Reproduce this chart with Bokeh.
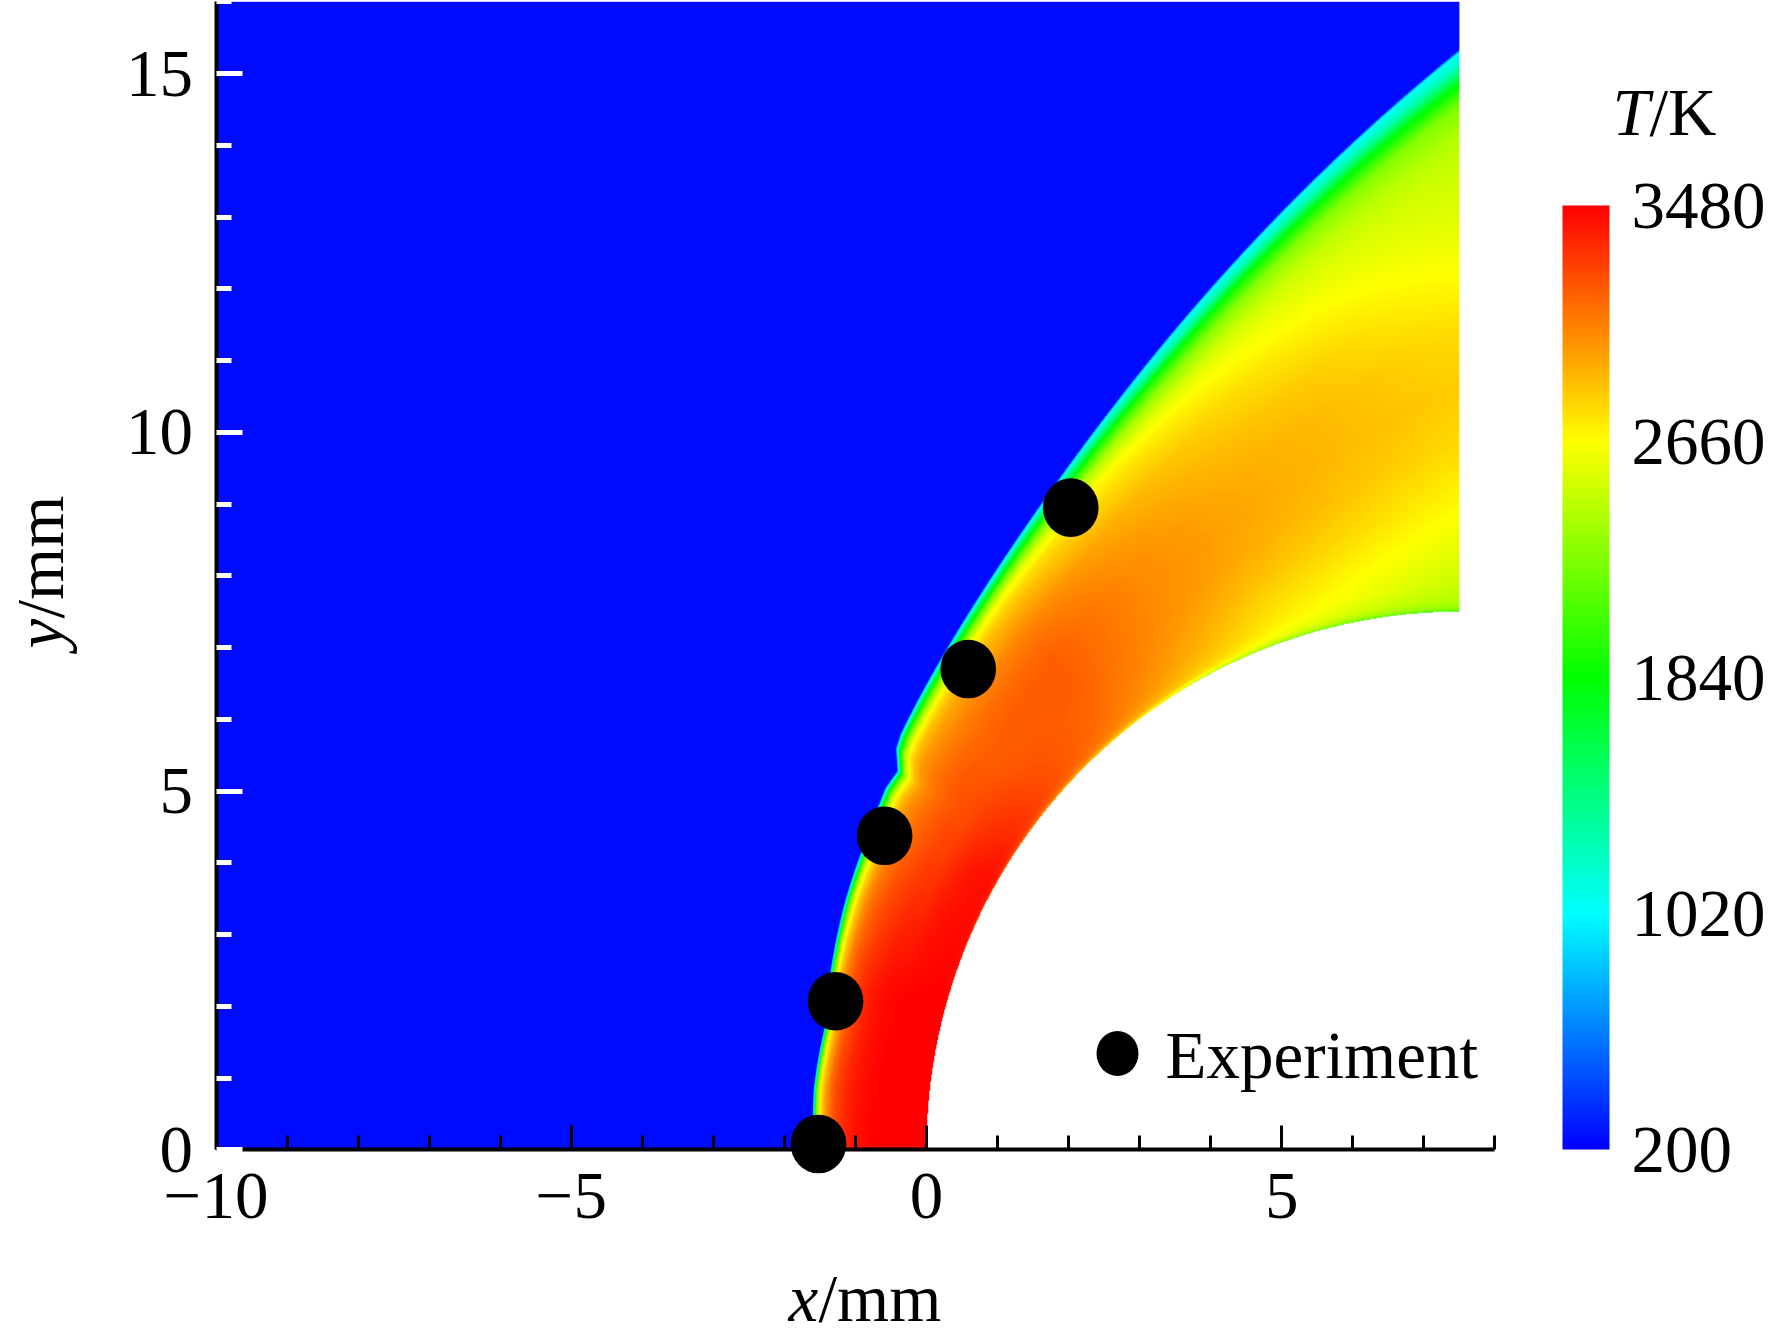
import numpy as np
from bokeh.plotting import figure
from bokeh.embed import file_html
from bokeh.resources import INLINE
from bokeh.models import (Range1d, LinearAxis, FixedTicker, LinearColorMapper, ColorBar, Label)

# ---------- values ----------
x_major = [-10, -5, 0, 5]
x_minor = [-9, -8, -7, -6, -4, -3, -2, -1, 1, 2, 3, 4, 6, 7, 8]
y_major = [0, 5, 10, 15]
y_minor = [1, 2, 3, 4, 6, 7, 8, 9, 11, 12, 13, 14, 16]
cbar_ticks = [200, 1020, 1840, 2660, 3480]

exp_x = [-1.52, -1.28, -0.59, 0.587, 2.03]
exp_y = [0.08, 2.07, 4.376, 6.70, 8.95]

# shock front (outer edge of the heated layer)
shock_x = [-1.60, -1.60, -1.59, -1.54, -1.44, -1.14, -0.93, -0.67, -0.575, -0.41, -0.43, -0.365, -0.18,
           0.196, 0.715, 1.04, 1.65, 2.21, 2.92, 3.39, 3.86, 4.33, 4.80, 5.26, 5.73, 6.20, 6.67, 7.14, 7.50]
shock_y = [0.00, 0.55, 0.85, 1.20, 1.69, 3.50, 4.13, 4.82, 5.05, 5.28, 5.60, 5.80, 6.16,
           6.86, 7.65, 8.17, 9.10, 9.84, 10.72, 11.28, 11.86, 12.40, 12.91, 13.35, 13.78, 14.24, 14.63, 15.03, 15.35]

# temperature across the layer: one row per angle from the stagnation line,
# one column per fraction of the wall-to-shock distance
body_centre = 7.5
body_radius = 7.5
layer_angle = [0, 15, 30, 40, 50, 60, 70, 80, 90]
layer_frac = [0, .005, .02, .05, .1, .2, .3, .4, .5, .6, .7, .8, .85, .9, .94, .97, .99, .995, 1.0]
layer_T = [
    [3440, 3470, 3480, 3480, 3480, 3480, 3480, 3480, 3470, 3440, 3380, 3270, 3150, 2950, 2700, 2200, 1200, 800, 250],
    [3420, 3460, 3475, 3480, 3480, 3480, 3480, 3470, 3450, 3410, 3340, 3220, 3100, 2900, 2650, 2100, 1200, 800, 250],
    [3100, 3300, 3400, 3430, 3430, 3400, 3350, 3280, 3250, 3200, 3130, 3020, 2900, 2700, 2350, 1800, 1100, 800, 250],
    [2900, 3050, 3180, 3250, 3250, 3230, 3200, 3180, 3170, 3130, 3060, 2950, 2850, 2650, 2250, 1700, 1100, 850, 250],
    [2700, 2850, 3000, 3080, 3120, 3150, 3170, 3180, 3180, 3130, 3050, 2900, 2800, 2620, 2200, 1600, 1100, 850, 250],
    [2400, 2600, 2800, 2880, 2940, 3000, 3030, 3040, 3030, 2990, 2920, 2780, 2700, 2450, 2050, 1500, 1080, 900, 250],
    [2200, 2450, 2620, 2700, 2760, 2860, 2930, 2950, 2930, 2880, 2810, 2680, 2550, 2300, 1900, 1300, 1050, 950, 250],
    [2050, 2350, 2500, 2600, 2660, 2770, 2850, 2880, 2870, 2810, 2700, 2560, 2470, 2280, 1880, 1300, 1060, 1020, 250],
    [2000, 2300, 2420, 2480, 2560, 2680, 2780, 2820, 2770, 2660, 2560, 2480, 2400, 2250, 1800, 1250, 1080, 1040, 250],
]
freestream_T = 235
T_low, T_high = 200, 3480
map_stops = [(0, 0, 255), (0, 255, 255), (0, 255, 0), (255, 255, 0), (255, 0, 0)]

# ---------- layout ----------
PX_X0, PX_Y0, SX, SY = 926.0, 1149.3, 71.05, 71.75
W, H = 1772, 1342
FONT = "Liberation Serif"
FS = "67px"
LABEL_SHIFT = 25


def X(px):
    return (px - PX_X0) / SX


def Y(py):
    return (PX_Y0 - py) / SY


# ---------- shade the field from the table ----------
nx, ny = 1243, 1148
x0, x1, y0, y1 = -10.0, 7.5, 0.0, 16.0
xc = x0 + (np.arange(nx) + .5) * (x1 - x0) / nx
yc = y0 + (np.arange(ny) + .5) * (y1 - y0) / ny
XX, YY = np.meshgrid(xc, yc)
DX = body_centre - XX
R = np.hypot(DX, YY)
PHI = np.degrees(np.arctan2(YY, DX))

sdx = body_centre - np.array(shock_x)
sy_ = np.array(shock_y)
s_r = np.hypot(sdx, sy_)
s_phi = np.degrees(np.arctan2(sy_, sdx))
order = np.argsort(s_phi)
s_phi, s_r = s_phi[order], s_r[order]
# the reading error along the smooth outer arc is evened out, the wrinkled inner part is kept as read
arc = s_phi > 38
coef = np.polyfit(s_phi[arc] - 65, s_r[arc], 5)
phi_f = np.linspace(s_phi[arc][0], 90, 200)
all_phi = np.concatenate([s_phi[~arc], phi_f])
all_r = np.concatenate([s_r[~arc], np.polyval(coef, phi_f - 65)])
RS = np.interp(PHI, all_phi, all_r)
F = (R - body_radius) / (RS - body_radius)

ang = np.array(layer_angle, float)
frac = np.array(layer_frac, float)
tab = np.array(layer_T, float)
ia = np.clip(np.searchsorted(ang, PHI) - 1, 0, len(ang) - 2)
ja = np.clip(np.searchsorted(frac, F) - 1, 0, len(frac) - 2)
ta = np.clip((PHI - ang[ia]) / (ang[ia + 1] - ang[ia]), 0, 1)
tf = np.clip((F - frac[ja]) / (frac[ja + 1] - frac[ja]), 0, 1)
T = ((1 - ta) * (1 - tf) * tab[ia, ja] + ta * (1 - tf) * tab[ia + 1, ja]
     + (1 - ta) * tf * tab[ia, ja + 1] + ta * tf * tab[ia + 1, ja + 1])
T[F > 1] = freestream_T
T[R < body_radius] = np.nan

# ---------- colour map ----------
palette = []
for k in range(len(map_stops) - 1):
    a, b = map_stops[k], map_stops[k + 1]
    for i in range(128):
        t = i / 128
        palette.append("#%02x%02x%02x" % tuple(int(round(a[c] + (b[c] - a[c]) * t)) for c in range(3)))
palette.append("#ff0000")
mapper = LinearColorMapper(palette=palette, low=T_low, high=T_high, nan_color="white")

# ---------- figure ----------
p = figure(width=W, height=H, x_range=Range1d(X(0), X(W)), y_range=Range1d(Y(H), Y(0)),
           x_axis_type=None, y_axis_type=None, toolbar_location=None, output_backend="svg",
           min_border=0, outline_line_color=None, background_fill_color="white", border_fill_color="white")
p.grid.visible = False

p.image(image=[T], x=x0, y=y0, dw=x1 - x0, dh=y1 - y0, color_mapper=mapper)

xax = LinearAxis(fixed_location=0, bounds=(-10, 8),
                 ticker=FixedTicker(ticks=x_major, minor_ticks=x_minor))
xax.major_label_overrides = {-10: "\u221210", -5: "\u22125", 0: "0", 5: "5"}
xax.axis_line_color = "black"
xax.axis_line_width = 4
xax.major_tick_in, xax.major_tick_out = 24, 0
xax.minor_tick_in, xax.minor_tick_out = 14, 0
xax.major_tick_line_width = xax.minor_tick_line_width = 3
xax.major_tick_line_color = xax.minor_tick_line_color = "black"
xax.major_label_text_font = FONT
xax.major_label_text_font_size = FS
xax.major_label_text_color = "black"
xax.major_label_standoff = 24
p.add_layout(xax, "below")

yax = LinearAxis(fixed_location=-10, bounds=(0, 16),
                 ticker=FixedTicker(ticks=y_major, minor_ticks=y_minor))
yax.axis_line_color = "black"
yax.axis_line_width = 4
yax.major_tick_in, yax.major_tick_out = 26, 0
yax.minor_tick_in, yax.minor_tick_out = 15, 0
yax.major_tick_line_width = yax.minor_tick_line_width = 5
yax.major_tick_line_color = yax.minor_tick_line_color = "white"
yax.major_label_text_font = FONT
yax.major_label_text_font_size = FS
yax.major_label_text_color = "black"
yax.major_label_standoff = 23
yax.major_label_orientation = "horizontal"
p.add_layout(yax, "left")

p.ellipse(exp_x, exp_y, width=55.7 / SX, height=58.7 / SY, fill_color="black", line_color=None, level="overlay")

# legend
p.ellipse([X(1117)], [Y(1053)], width=42 / SX, height=45 / SY, fill_color="black", line_color=None, level="overlay")


def lab(text, px, py, style="normal", angle=0.0):
    if angle:
        px = px - LABEL_SHIFT
    else:
        py = py - LABEL_SHIFT
    p.add_layout(Label(x=X(px), y=Y(py), text=text, text_font=FONT, text_font_size=FS, text_font_style=style,
                       text_color="black", text_baseline="alphabetic", text_align="left", angle=angle))


lab("Experiment", 1165, 1079)
lab("x", 788, 1322, "italic")
lab("/mm", 818, 1322)
lab("y", 64, 648, "italic", np.pi / 2)
lab("/mm", 64, 618, "normal", np.pi / 2)
lab("T", 1612, 136, "italic")
lab("/K", 1649, 136)

cb = ColorBar(color_mapper=mapper, location=(1562, H - 1149), width=47, height=944, padding=0,
              ticker=FixedTicker(ticks=cbar_ticks), major_tick_line_color=None, minor_tick_line_color=None,
              bar_line_color=None, border_line_color=None, background_fill_color=None,
              major_label_text_font=FONT, major_label_text_font_size=FS, major_label_text_color="black",
              label_standoff=22, major_label_overrides={t: str(t) for t in cbar_ticks})
p.add_layout(cb)

open("out.html", "w").write(file_html(p, INLINE))
